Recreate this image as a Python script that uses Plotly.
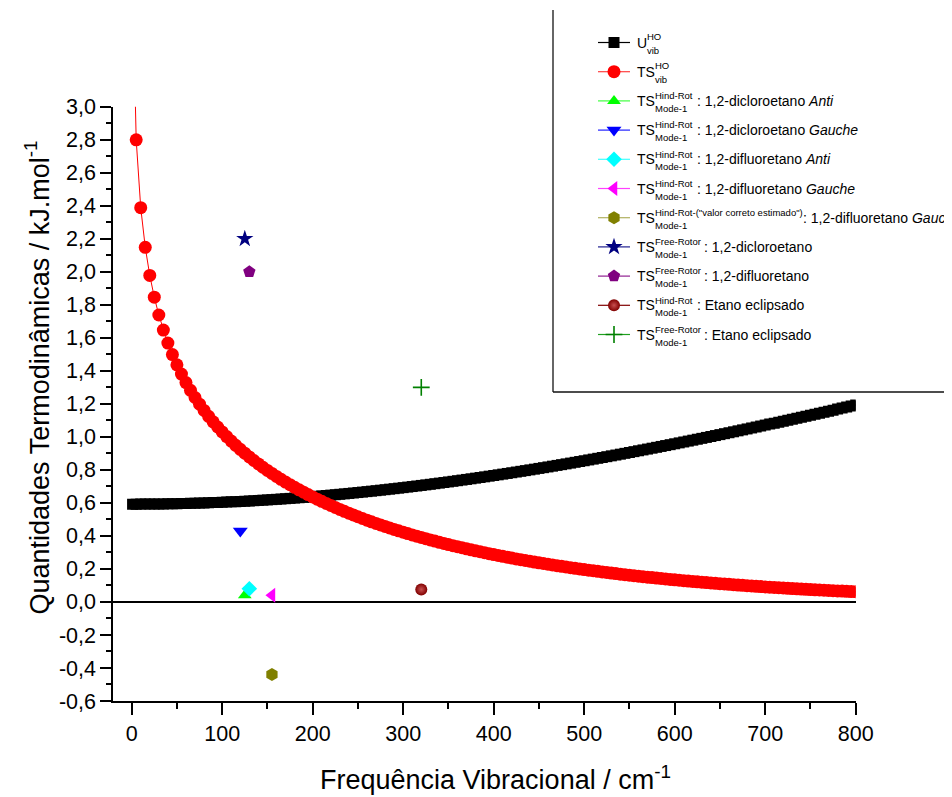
import plotly.graph_objects as go

# The page places the figure 8 px from the top-left corner of the window,
# so the figure is made 8 px smaller and all layout positions are given in window pixels.
WIN_W, WIN_H = 952, 797
OFF = 8
W, H = WIN_W - OFF, WIN_H - OFF

# ---------------- data ----------------
FREQ = [1,
        5, 10, 15, 20, 25, 30, 35, 40, 45, 50, 55, 60, 65, 70, 75, 80, 85, 90, 95, 100,
        105, 110, 115, 120, 125, 130, 135, 140, 145, 150, 155, 160, 165, 170, 175, 180, 185, 190, 195, 200,
        205, 210, 215, 220, 225, 230, 235, 240, 245, 250, 255, 260, 265, 270, 275, 280, 285, 290, 295, 300,
        305, 310, 315, 320, 325, 330, 335, 340, 345, 350, 355, 360, 365, 370, 375, 380, 385, 390, 395, 400,
        405, 410, 415, 420, 425, 430, 435, 440, 445, 450, 455, 460, 465, 470, 475, 480, 485, 490, 495, 500,
        505, 510, 515, 520, 525, 530, 535, 540, 545, 550, 555, 560, 565, 570, 575, 580, 585, 590, 595, 600,
        605, 610, 615, 620, 625, 630, 635, 640, 645, 650, 655, 660, 665, 670, 675, 680, 685, 690, 695, 700,
        705, 710, 715, 720, 725, 730, 735, 740, 745, 750, 755, 760, 765, 770, 775, 780, 785, 790, 795, 800]

U_VIB_HO = [0.5925,
            0.5925, 0.5926, 0.5928, 0.5930, 0.5932, 0.5935, 0.5939, 0.5943, 0.5948, 0.5954,
            0.5960, 0.5966, 0.5974, 0.5981, 0.5990, 0.5998, 0.6008, 0.6018, 0.6028, 0.6040,
            0.6051, 0.6064, 0.6076, 0.6090, 0.6104, 0.6118, 0.6133, 0.6149, 0.6165, 0.6182,
            0.6199, 0.6216, 0.6235, 0.6254, 0.6273, 0.6293, 0.6313, 0.6334, 0.6356, 0.6378,
            0.6401, 0.6424, 0.6447, 0.6471, 0.6496, 0.6521, 0.6547, 0.6573, 0.6600, 0.6627,
            0.6654, 0.6683, 0.6711, 0.6740, 0.6770, 0.6800, 0.6831, 0.6862, 0.6893, 0.6925,
            0.6958, 0.6991, 0.7024, 0.7058, 0.7093, 0.7127, 0.7163, 0.7198, 0.7234, 0.7271,
            0.7308, 0.7345, 0.7383, 0.7421, 0.7460, 0.7499, 0.7539, 0.7579, 0.7619, 0.7660,
            0.7701, 0.7743, 0.7784, 0.7827, 0.7870, 0.7913, 0.7956, 0.8000, 0.8044, 0.8089,
            0.8134, 0.8179, 0.8225, 0.8271, 0.8317, 0.8364, 0.8411, 0.8459, 0.8506, 0.8554,
            0.8603, 0.8652, 0.8701, 0.8750, 0.8800, 0.8850, 0.8900, 0.8951, 0.9002, 0.9053,
            0.9105, 0.9157, 0.9209, 0.9261, 0.9314, 0.9367, 0.9420, 0.9474, 0.9527, 0.9581,
            0.9636, 0.9690, 0.9745, 0.9800, 0.9856, 0.9911, 0.9967, 1.0023, 1.0080, 1.0136,
            1.0193, 1.0250, 1.0307, 1.0365, 1.0423, 1.0480, 1.0539, 1.0597, 1.0656, 1.0714,
            1.0773, 1.0832, 1.0892, 1.0951, 1.1011, 1.1071, 1.1131, 1.1192, 1.1252, 1.1313,
            1.1374, 1.1435, 1.1496, 1.1557, 1.1619, 1.1681, 1.1742, 1.1804, 1.1867, 1.1929]

TS_VIB_HO = [3.7528,
             2.7992, 2.3885, 2.1484, 1.9780, 1.8459, 1.7381, 1.6469, 1.5680, 1.4985, 1.4363,
             1.3802, 1.3289, 1.2819, 1.2384, 1.1979, 1.1601, 1.1247, 1.0913, 1.0598, 1.0299,
             1.0016, 0.9747, 0.9490, 0.9245, 0.9010, 0.8785, 0.8569, 0.8361, 0.8161, 0.7969,
             0.7783, 0.7604, 0.7431, 0.7264, 0.7102, 0.6946, 0.6794, 0.6647, 0.6504, 0.6363,
             0.6228, 0.6097, 0.5969, 0.5845, 0.5724, 0.5606, 0.5492, 0.5380, 0.5271, 0.5160,
             0.5056, 0.4955, 0.4856, 0.4759, 0.4665, 0.4573, 0.4483, 0.4395, 0.4309, 0.4225,
             0.4142, 0.4062, 0.3983, 0.3906, 0.3831, 0.3757, 0.3685, 0.3614, 0.3545, 0.3477,
             0.3411, 0.3346, 0.3282, 0.3220, 0.3158, 0.3098, 0.3040, 0.2982, 0.2926, 0.2870,
             0.2816, 0.2763, 0.2711, 0.2660, 0.2609, 0.2560, 0.2512, 0.2465, 0.2418, 0.2373,
             0.2328, 0.2284, 0.2241, 0.2199, 0.2158, 0.2117, 0.2077, 0.2038, 0.2000, 0.1962,
             0.1925, 0.1889, 0.1854, 0.1819, 0.1784, 0.1751, 0.1718, 0.1685, 0.1654, 0.1622,
             0.1592, 0.1562, 0.1532, 0.1503, 0.1475, 0.1447, 0.1420, 0.1393, 0.1367, 0.1341,
             0.1315, 0.1290, 0.1266, 0.1242, 0.1218, 0.1195, 0.1172, 0.1150, 0.1128, 0.1107,
             0.1086, 0.1065, 0.1045, 0.1025, 0.1005, 0.0986, 0.0967, 0.0949, 0.0930, 0.0913,
             0.0895, 0.0878, 0.0861, 0.0845, 0.0828, 0.0812, 0.0797, 0.0781, 0.0766, 0.0752,
             0.0737, 0.0723, 0.0709, 0.0695, 0.0682, 0.0669, 0.0656, 0.0643, 0.0630, 0.0618]

# single-point series (frequency, value), in legend order after the two curves
POINT_FREQ = [125, 120, 130, 155, 155, 125, 130, 320, 320]
POINT_VALUE = [0.04, 0.43, 0.08, 0.04, -0.44, 2.2, 2.0, 0.076, 1.3]

X_TICK_VALUES = [0, 100, 200, 300, 400, 500, 600, 700, 800]
X_TICK_LABELS = ["0", "100", "200", "300", "400", "500", "600", "700", "800"]
X_MINOR_VALUES = [50, 150, 250, 350, 450, 550, 650, 750]
Y_TICK_VALUES = [-0.6, -0.4, -0.2, 0.0, 0.2, 0.4, 0.6, 0.8, 1.0, 1.2, 1.4, 1.6, 1.8, 2.0, 2.2, 2.4, 2.6, 2.8, 3.0]
Y_TICK_LABELS = ["-0,6", "-0,4", "-0,2", "0,0", "0,2", "0,4", "0,6", "0,8", "1,0", "1,2", "1,4",
                 "1,6", "1,8", "2,0", "2,2", "2,4", "2,6", "2,8", "3,0"]
Y_MINOR_VALUES = [-0.5, -0.3, -0.1, 0.1, 0.3, 0.5, 0.7, 0.9, 1.1, 1.3, 1.5, 1.7, 1.9, 2.1, 2.3, 2.5, 2.7, 2.9]

# legend texts
LEG_BASE = ["U", "TS", "TS", "TS", "TS", "TS", "TS", "TS", "TS", "TS", "TS"]
LEG_SUP = ["HO", "HO", "Hind-Rot", "Hind-Rot", "Hind-Rot", "Hind-Rot",
           'Hind-Rot-("valor correto estimado")', "Free-Rotor", "Free-Rotor", "Hind-Rot", "Free-Rotor"]
LEG_SUB = ["vib", "vib", "Mode-1", "Mode-1", "Mode-1", "Mode-1", "Mode-1", "Mode-1", "Mode-1", "Mode-1", "Mode-1"]
LEG_DESC = ["", "",
            ": 1,2-dicloroetano <i>Anti</i>", ": 1,2-dicloroetano <i>Gauche</i>",
            ": 1,2-difluoretano <i>Anti</i>", ": 1,2-difluoretano <i>Gauche</i>",
            ": 1,2-difluoretano <i>Gauche</i>", ": 1,2-dicloroetano", ": 1,2-difluoretano",
            ": Etano eclipsado", ": Etano eclipsado"]

# ---------------- styles ----------------
FONT = "Liberation Sans, Arial, sans-serif"
STYLES = [
    dict(symbol="square", color="#000000", size=11),
    dict(symbol="circle", color="#ff0000", size=13),
    dict(symbol="triangle-up", color="#00ff00", size=12),
    dict(symbol="triangle-down", color="#0000ff", size=13),
    dict(symbol="diamond", color="#00ffff", size=12),
    dict(symbol="triangle-left", color="#ff00ff", size=13),
    dict(symbol="hexagon", color="#808000", size=13),
    dict(symbol="star", color="#000080", size=13),
    dict(symbol="pentagon", color="#800080", size=13),
    dict(symbol="circle", color="#800000", size=12),
    dict(symbol="cross-thin", color="#008000", size=12),
]
LINE_COLORS = ["#000000", "#ff4040", "#40ff40", "#2020ff", "#40ffff", "#ff40ff",
               "#b0b060", "#202090", "#902090", "#800000", "#20a020"]


def marker_of(st):
    m = dict(symbol=st["symbol"], color=st["color"], size=st["size"], line=dict(width=0))
    if st["symbol"] == "cross-thin":
        m["line"] = dict(width=1.6, color=st["color"])
    if st["color"] == "#800000":
        m["gradient"] = dict(type="radial", color="#c85050")
    return m


fig = go.Figure()

# curves
fig.add_trace(go.Scatter(x=FREQ, y=U_VIB_HO, mode="lines+markers",
                         line=dict(color="#000000", width=1), marker=marker_of(STYLES[0]),
                         showlegend=False))
fig.add_trace(go.Scatter(x=FREQ, y=TS_VIB_HO, mode="lines+markers",
                         line=dict(color="#ff0000", width=1), marker=marker_of(STYLES[1]),
                         showlegend=False))
# single points
for i, (fx, fy) in enumerate(zip(POINT_FREQ, POINT_VALUE)):
    fig.add_trace(go.Scatter(x=[fx], y=[fy], mode="markers", marker=marker_of(STYLES[i + 2]),
                             showlegend=False))

# ---------------- custom legend (window-pixel coordinates on hidden axes) ----------------
LEG_ROW0, LEG_DY = 42.5, 29.2
SAMPLE_X0, SAMPLE_X1 = 598, 630
TEXT_X = 634.7
annotations = []
for i, st in enumerate(STYLES):
    yc = LEG_ROW0 + i * LEG_DY
    fig.add_trace(go.Scatter(x=[SAMPLE_X0, SAMPLE_X1], y=[yc, yc], mode="lines",
                             line=dict(color=LINE_COLORS[i], width=1.2),
                             xaxis="x2", yaxis="y2", showlegend=False, hoverinfo="skip",
                             cliponaxis=False))
    fig.add_trace(go.Scatter(x=[(SAMPLE_X0 + SAMPLE_X1) / 2], y=[yc], mode="markers",
                             marker=marker_of(st), xaxis="x2", yaxis="y2",
                             showlegend=False, hoverinfo="skip", cliponaxis=False))
    base = LEG_BASE[i]
    annotations.append(dict(x=TEXT_X, y=yc, xref="x2", yref="y2", text=base, showarrow=False,
                            xanchor="left", yanchor="middle", font=dict(size=14, family=FONT, color="black")))
    sx = TEXT_X + (10.4 if base == "U" else 18.2)
    sup_off = -6.2 if LEG_SUP[i] == "HO" else -5.2
    annotations.append(dict(x=sx, y=yc + sup_off, xref="x2", yref="y2", text=LEG_SUP[i], showarrow=False,
                            xanchor="left", yanchor="middle", font=dict(size=9.5, family=FONT, color="black")))
    annotations.append(dict(x=sx, y=yc + 7.6, xref="x2", yref="y2", text=LEG_SUB[i], showarrow=False,
                            xanchor="left", yanchor="middle", font=dict(size=9.5, family=FONT, color="black")))
    if LEG_DESC[i]:
        if LEG_SUP[i].startswith("Hind-Rot-"):
            dx = 801
        elif LEG_SUP[i] == "Free-Rotor":
            dx = 702
        else:
            dx = 694.7
        annotations.append(dict(x=dx, y=yc, xref="x2", yref="y2", text=LEG_DESC[i], showarrow=False,
                                xanchor="left", yanchor="middle", font=dict(size=14, family=FONT, color="black")))

# axis titles
annotations.append(dict(x=495, y=778, xref="x2", yref="y2", text="Frequência Vibracional / cm<sup>-1</sup>",
                        showarrow=False, xanchor="center", yanchor="middle",
                        font=dict(size=27, family=FONT, color="black")))
annotations.append(dict(x=37, y=377.5, xref="x2", yref="y2",
                        text="Quantidades Termodinâmicas / kJ.mol<sup>-1</sup>", textangle=-90,
                        showarrow=False, xanchor="center", yanchor="middle",
                        font=dict(size=27, family=FONT, color="black")))

shapes = [
    dict(type="line", xref="x2", yref="y2", x0=553, x1=553, y0=10, y1=392, line=dict(color="#333333", width=1.5)),
    dict(type="line", xref="x2", yref="y2", x0=553, x1=960, y0=392, y1=392, line=dict(color="#111111", width=1.5)),
]

# plot-area edges in window pixels
AX_LEFT, AX_RIGHT, AX_TOP, AX_BOTTOM = 113.3, 855.7, 106.7, 701.0

tickfont = dict(size=21.5, family=FONT, color="black")
fig.update_layout(
    template="none",
    width=W, height=H,
    margin=dict(l=0, r=0, t=0, b=0, pad=0, autoexpand=False),
    paper_bgcolor="white", plot_bgcolor="rgba(0,0,0,0)",
    showlegend=False,
    annotations=annotations, shapes=shapes,
    xaxis=dict(domain=[(AX_LEFT - OFF) / W, (AX_RIGHT - OFF) / W], range=[-20.3, 800], anchor="y",
               automargin=False,
               showline=True, linecolor="black", linewidth=2, showgrid=False, zeroline=False,
               ticks="outside", ticklen=12, tickwidth=2, tickcolor="black",
               tickvals=X_TICK_VALUES, ticktext=X_TICK_LABELS, tickfont=tickfont,
               minor=dict(tickvals=X_MINOR_VALUES, ticks="outside", ticklen=6, tickwidth=2,
                          tickcolor="black", showgrid=False)),
    yaxis=dict(domain=[(WIN_H - AX_BOTTOM) / H, (WIN_H - AX_TOP) / H], range=[-0.6, 3.0], anchor="x",
               automargin=False,
               showline=True, linecolor="black", linewidth=2, showgrid=False,
               zeroline=True, zerolinecolor="black", zerolinewidth=2,
               ticks="outside", ticklen=11, tickwidth=2, tickcolor="black",
               tickvals=Y_TICK_VALUES, ticktext=Y_TICK_LABELS, tickfont=tickfont,
               minor=dict(tickvals=Y_MINOR_VALUES, ticks="outside", ticklen=5.5, tickwidth=2,
                          tickcolor="black", showgrid=False)),
    xaxis2=dict(domain=[0, 1], range=[OFF, WIN_W], anchor="y2", visible=False, fixedrange=True,
                automargin=False),
    yaxis2=dict(domain=[0, 1], range=[WIN_H, OFF], anchor="x2", visible=False, fixedrange=True,
                automargin=False),
)

fig.write_html("out.html")
